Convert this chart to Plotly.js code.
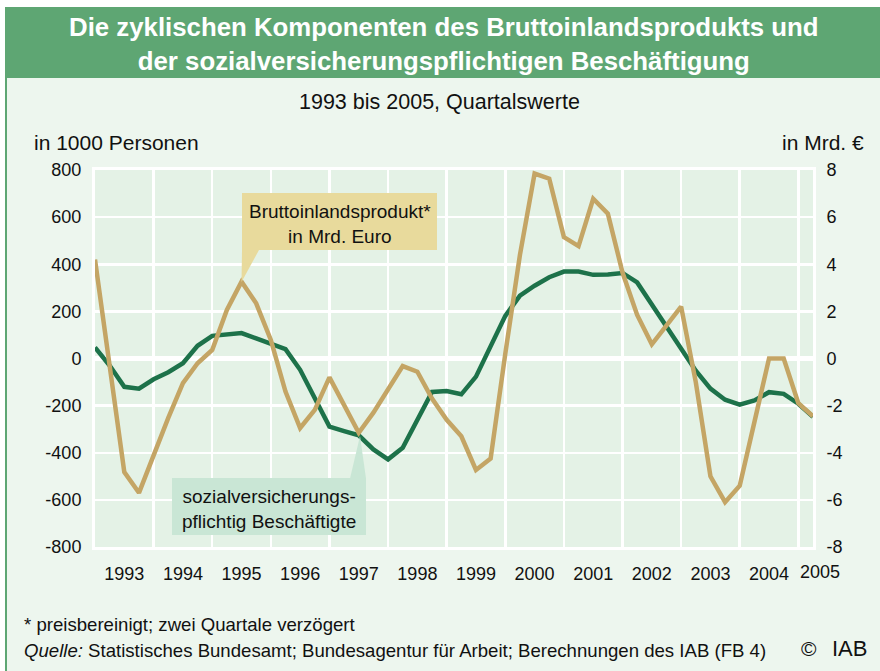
<!DOCTYPE html>
<html>
<head>
<meta charset="utf-8">
<script src="https://cdn.plot.ly/plotly-3.0.1.min.js"></script>
<style>html,body{margin:0;padding:0;background:#fff;}#chart{width:880px;height:671px;}</style>
</head>
<body>
<div id="chart"></div>
<script>
// Quarterly data 1993 Q1 ... 2005 Q2
const yearLabels = ['1993','1994','1995','1996','1997','1998','1999','2000','2001','2002','2003','2004'];
const lastYearLabel = '2005';
const leftTicks = [-800,-600,-400,-200,0,200,400,600,800];
const rightTicks = [-8,-6,-4,-2,0,2,4,6,8];
// sozialversicherungspflichtig Beschäftigte, in 1000 Personen (left axis)
const beschaeftigte = [47,-30,-120,-128,-88,-58,-20,54,96,103,108,85,62,40,-48,-173,-289,-308,-326,-386,-428,-379,-258,-142,-138,-152,-77,54,181,267,309,345,369,369,355,357,363,323,231,139,45,-52,-128,-175,-196,-178,-143,-150,-192,-247];
// Bruttoinlandsprodukt, in Mrd. Euro (right axis)
const bip = [4.2,-0.3,-4.82,-5.7,-4.09,-2.52,-1.05,-0.2,0.36,2.06,3.26,2.34,0.79,-1.4,-2.95,-2.18,-0.8,-2.0,-3.15,-2.3,-1.34,-0.32,-0.56,-1.7,-2.6,-3.3,-4.73,-4.25,0.2,4.4,7.85,7.63,5.15,4.77,6.78,6.15,3.65,1.85,0.6,1.4,2.2,-1.0,-5.0,-6.1,-5.4,-2.7,0,0,-1.9,-2.45];

const qIdx = beschaeftigte.map((_, i) => i);
const yearTickPos = yearLabels.map((_, k) => 4 * k + 2);
const yearGridPos = yearLabels.map((_, k) => 4 * k).concat([48]);

const FONT = 'Liberation Sans, Arial, Helvetica, sans-serif';
const GREEN = '#1d724a';
const TAN = '#c4a565';
const HEADER = '#5ea673';
const TXT = '#111111';

// pixel -> paper helpers (plot area: x 95..813, y 170..547)
const L = 95, R = 813, T = 170, B = 547;
const px = x => (x - L) / (R - L);
const py = y => (B - y) / (B - T);

const traces = [
  {x: qIdx, y: beschaeftigte, type: 'scatter', mode: 'lines', name: 'Beschäftigte',
   line: {color: GREEN, width: 4.5}, yaxis: 'y', hoverinfo: 'skip'},
  {x: qIdx, y: bip, type: 'scatter', mode: 'lines', name: 'BIP',
   line: {color: TAN, width: 4.5}, yaxis: 'y2', hoverinfo: 'skip'}
];

const layout = {
  width: 880, height: 671,
  margin: {l: L, r: 880 - R, t: T, b: 671 - B, pad: 0},
  paper_bgcolor: '#edf6ee',
  plot_bgcolor: '#e4f2e6',
  showlegend: false,
  font: {family: FONT, size: 18, color: TXT},
  xaxis: {
    range: [0, 49], tickmode: 'array', tickvals: yearTickPos, ticktext: yearLabels,
    showgrid: false, zeroline: false, ticks: 'outside', ticklen: 8, tickcolor: 'rgba(0,0,0,0)',
    showline: true, linecolor: '#ffffff', linewidth: 3, mirror: true,
    tickfont: {family: FONT, size: 18, color: TXT},
    minor: {tickmode: 'array', tickvals: yearGridPos, showgrid: true, gridcolor: '#ffffff', gridwidth: 2.5, ticks: ''},
    fixedrange: true
  },
  yaxis: {
    range: [-800, 800], tickmode: 'array', tickvals: leftTicks, ticktext: leftTicks.map(String),
    showgrid: true, gridcolor: '#ffffff', gridwidth: 2.5,
    zeroline: true, zerolinecolor: '#ffffff', zerolinewidth: 5,
    showline: true, linecolor: '#ffffff', linewidth: 3, mirror: true,
    ticks: 'outside', ticklen: 7, tickcolor: 'rgba(0,0,0,0)',
    tickfont: {family: FONT, size: 18, color: TXT}, fixedrange: true
  },
  yaxis2: {
    range: [-8, 8], tickmode: 'array', tickvals: rightTicks, ticktext: rightTicks.map(String),
    overlaying: 'y', side: 'right', showgrid: false, zeroline: false,
    ticks: 'outside', ticklen: 9, tickcolor: 'rgba(0,0,0,0)',
    tickfont: {family: FONT, size: 18, color: TXT}, fixedrange: true
  },
  shapes: [
    {type: 'rect', xref: 'paper', yref: 'paper', x0: px(-5), x1: px(890), y0: py(7), y1: py(-5), fillcolor: '#ffffff', line: {width: 0}, layer: 'below'},
    {type: 'rect', xref: 'paper', yref: 'paper', x0: px(-5), x1: px(5), y0: py(680), y1: py(-5), fillcolor: '#ffffff', line: {width: 0}, layer: 'below'},
    {type: 'rect', xref: 'paper', yref: 'paper', x0: px(5), x1: px(890), y0: py(78), y1: py(7), fillcolor: HEADER, line: {width: 0}, layer: 'below'},
    {type: 'line', xref: 'paper', yref: 'paper', x0: px(6), x1: px(6), y0: py(78), y1: py(680), line: {color: HEADER, width: 2}, layer: 'below'},
    {type: 'rect', xref: 'paper', yref: 'paper', x0: px(242), x1: px(437), y0: py(250), y1: py(193), fillcolor: '#e8da9c', line: {width: 0}, layer: 'above'},
    {type: 'path', xref: 'paper', yref: 'paper',
     path: `M ${px(242)} ${py(250)} L ${px(259)} ${py(250)} L ${px(241.5)} ${py(282)} Z`,
     fillcolor: '#e8da9c', line: {width: 0}, layer: 'above'},
    {type: 'rect', xref: 'paper', yref: 'paper', x0: px(172), x1: px(366), y0: py(535), y1: py(478), fillcolor: '#c9e6d5', line: {width: 0}, layer: 'above'},
    {type: 'path', xref: 'paper', yref: 'paper',
     path: `M ${px(350)} ${py(478.5)} L ${px(366)} ${py(478.5)} L ${px(360)} ${py(436)} Z`,
     fillcolor: '#c9e6d5', line: {width: 0}, layer: 'above'}
  ],
  annotations: [
    {xref: 'paper', yref: 'paper', x: px(444), y: py(44), xanchor: 'center', yanchor: 'middle', showarrow: false,
     text: '<b>Die zyklischen Komponenten des Bruttoinlandsprodukts und<br>der sozialversicherungspflichtigen Beschäftigung</b>',
     font: {family: FONT, size: 25.8, color: '#ffffff'}},
    {xref: 'paper', yref: 'paper', x: px(439), y: py(102), xanchor: 'center', yanchor: 'middle', showarrow: false,
     text: '1993 bis 2005, Quartalswerte', font: {family: FONT, size: 21.5, color: TXT}},
    {xref: 'paper', yref: 'paper', x: px(32), y: py(142), xanchor: 'left', yanchor: 'middle', showarrow: false,
     text: 'in 1000 Personen', font: {family: FONT, size: 21, color: TXT}},
    {xref: 'paper', yref: 'paper', x: px(866), y: py(142), xanchor: 'right', yanchor: 'middle', showarrow: false,
     text: 'in Mrd. €', font: {family: FONT, size: 21, color: TXT}},
    {xref: 'paper', yref: 'paper', x: px(820), y: py(572), xanchor: 'center', yanchor: 'middle', showarrow: false,
     text: lastYearLabel, font: {family: FONT, size: 18, color: TXT}},
    {xref: 'paper', yref: 'paper', x: px(339.5), y: py(224), xanchor: 'center', yanchor: 'middle', showarrow: false,
     text: 'Bruttoinlandsprodukt*<br>in Mrd. Euro', font: {family: FONT, size: 19, color: TXT}},
    {xref: 'paper', yref: 'paper', x: px(269), y: py(509), xanchor: 'center', yanchor: 'middle', showarrow: false,
     text: 'sozialversicherungs-<br>pflichtig Beschäftigte', font: {family: FONT, size: 19, color: TXT}},
    {xref: 'paper', yref: 'paper', x: px(22), y: py(624), xanchor: 'left', yanchor: 'middle', showarrow: false,
     text: '* preisbereinigt; zwei Quartale verzögert', font: {family: FONT, size: 18.6, color: TXT}},
    {xref: 'paper', yref: 'paper', x: px(22), y: py(650), xanchor: 'left', yanchor: 'middle', showarrow: false,
     text: '<i>Quelle:</i> Statistisches Bundesamt; Bundesagentur für Arbeit; Berechnungen des IAB (FB 4)', font: {family: FONT, size: 18.6, color: TXT}},
    {xref: 'paper', yref: 'paper', x: px(799), y: py(648), xanchor: 'left', yanchor: 'middle', showarrow: false,
     text: '©', font: {family: FONT, size: 21, color: TXT}},
    {xref: 'paper', yref: 'paper', x: px(830), y: py(648), xanchor: 'left', yanchor: 'middle', showarrow: false,
     text: 'IAB', font: {family: FONT, size: 22, color: TXT}}
  ]
};

Plotly.newPlot('chart', traces, layout, {staticPlot: true, displayModeBar: false});
</script>
</body>
</html>
